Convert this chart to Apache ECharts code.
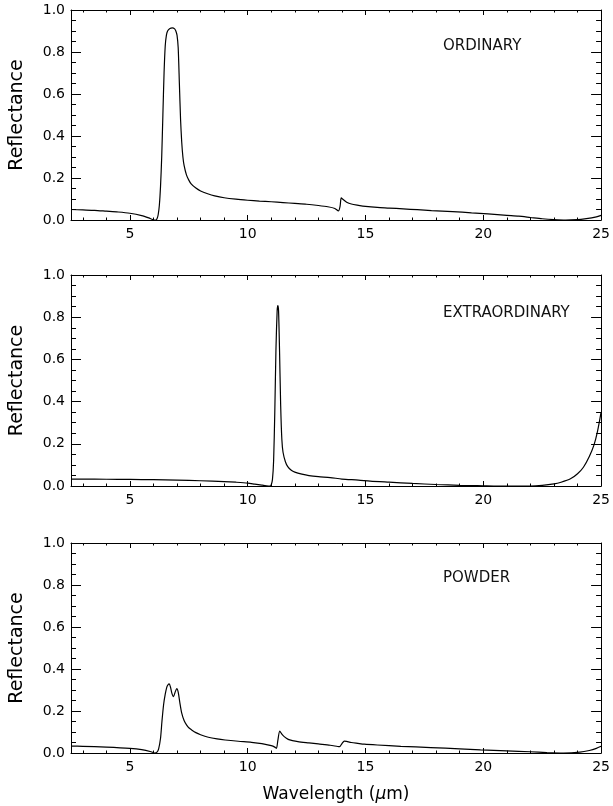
<!DOCTYPE html>
<html>
<head>
<meta charset="utf-8">
<script src="https://cdn.jsdelivr.net/npm/echarts@6/dist/echarts.min.js"></script>
<style>
html,body{margin:0;padding:0;background:#fff;}
#chart{width:613px;height:806px;}
</style>
</head>
<body>
<div id="chart"></div>
<script>
// ---------------- DATA ----------------
const panelNames = ['ORDINARY', 'EXTRAORDINARY', 'POWDER'];

const wlOrdinary = [2.5,3,3.5,4,4.5,5,5.5,5.8,6.0,6.1,6.15,6.2,6.25,6.3,6.35,6.4,6.45,6.5,6.55,6.6,6.7,6.8,6.9,6.95,7.0,7.05,7.1,7.15,7.2,7.25,7.3,7.4,7.5,7.6,7.8,8.0,8.3,8.6,9.0,9.5,10,10.5,11,11.5,12,12.5,13,13.4,13.7,13.85,13.92,13.97,14.05,14.2,14.4,14.7,15,15.5,16,16.6,17.2,17.8,18.7,19.5,20.2,21,21.5,22,22.5,23,23.5,24,24.3,24.6,24.8,25];
const rOrdinary  = [0.050,0.048,0.046,0.042,0.038,0.032,0.021,0.010,0.001,0.0,0.006,0.025,0.07,0.16,0.30,0.50,0.70,0.83,0.88,0.90,0.912,0.915,0.91,0.90,0.88,0.82,0.65,0.48,0.37,0.30,0.26,0.215,0.19,0.172,0.152,0.138,0.125,0.115,0.106,0.099,0.094,0.090,0.087,0.083,0.079,0.075,0.069,0.063,0.055,0.043,0.065,0.105,0.098,0.085,0.076,0.070,0.065,0.060,0.057,0.053,0.049,0.045,0.040,0.034,0.029,0.022,0.018,0.012,0.006,0.002,0.0,0.002,0.005,0.010,0.015,0.022];

const wlExtra = [2.5,3,4,5,6,7,8,9,9.5,10,10.3,10.6,10.8,10.95,11.0,11.05,11.1,11.15,11.2,11.25,11.28,11.31,11.35,11.4,11.45,11.5,11.6,11.7,11.85,12,12.3,12.6,13,13.5,14,14.7,15.2,16,17,18,19,19.5,20,20.5,21,21.5,22,22.5,23,23.3,23.7,24,24.25,24.5,24.7,24.85,25];
const rExtra  = [0.033,0.033,0.032,0.031,0.030,0.028,0.025,0.021,0.018,0.014,0.009,0.004,0.001,0.0,0.006,0.03,0.12,0.35,0.65,0.83,0.855,0.83,0.65,0.38,0.22,0.16,0.115,0.092,0.075,0.066,0.056,0.049,0.044,0.040,0.033,0.028,0.023,0.018,0.012,0.007,0.003,0.002,0.001,0.0,0.0,0.0,0.0,0.003,0.010,0.018,0.034,0.058,0.089,0.14,0.195,0.26,0.35];

const wlPowder = [2.5,3,4,5,5.5,5.9,6.05,6.15,6.22,6.3,6.36,6.43,6.5,6.57,6.62,6.67,6.72,6.78,6.85,6.92,6.99,7.05,7.12,7.2,7.3,7.41,7.5,7.62,7.8,8.0,8.33,8.7,9.04,9.6,10.16,10.6,11.0,11.15,11.22,11.28,11.36,11.45,11.55,11.72,11.9,12.13,12.6,13.0,13.5,13.82,13.9,14.0,14.1,14.2,14.4,14.67,14.95,15.5,16.5,17.77,19,19.88,21,21.99,22.7,23.4,24.1,24.5,24.8,25];
const rPowder  = [0.033,0.032,0.028,0.022,0.016,0.006,0.0,0.004,0.02,0.07,0.15,0.23,0.28,0.315,0.326,0.329,0.315,0.285,0.268,0.29,0.307,0.29,0.24,0.19,0.155,0.133,0.12,0.11,0.097,0.087,0.075,0.067,0.062,0.056,0.051,0.045,0.035,0.028,0.022,0.06,0.104,0.09,0.078,0.065,0.059,0.054,0.048,0.043,0.037,0.031,0.030,0.045,0.057,0.055,0.050,0.046,0.042,0.038,0.032,0.026,0.020,0.015,0.010,0.006,0.002,0.0,0.004,0.012,0.022,0.032];

const xMajorTicks = [5, 10, 15, 20, 25];
const xMinorTicks = [3,4,6,7,8,9,11,12,13,14,16,17,18,19,21,22,23,24];
const xRange = [2.5, 25];
const yRange = [0, 1];
const yStep = 0.2;
const yTitle = 'Reflectance';

// ---------------- LAYOUT / STYLE ----------------
const panels = [
  { top: 10, height: 210, wl: wlOrdinary, r: rOrdinary, labelY: 48 },
  { top: 275, height: 211, wl: wlExtra, r: rExtra, labelY: 315 },
  { top: 543, height: 210, wl: wlPowder, r: rPowder, labelY: 580 }
];
const FONT = 'DejaVu Sans, sans-serif';
const INK = '#000';

const grid = [], xAxis = [], yAxis = [], series = [], graphic = [];

panels.forEach((p, i) => {
  grid.push({ left: 71, width: 533, top: p.top, height: p.height, show: false, containLabel: false });

  const baseX = {
    gridIndex: i, type: 'value', min: xRange[0], max: xRange[1],
    splitLine: { show: false }, minorSplitLine: { show: false }
  };
  const lineOn = { show: true, onZero: false, lineStyle: { color: INK, width: 1 } };
  const lineOff = { show: false, onZero: false };

  const xMainIndex = xAxis.length;
  // bottom major (with labels)
  xAxis.push(Object.assign({}, baseX, {
    position: 'bottom',
    axisLine: lineOn,
    axisTick: { show: true, inside: true, length: 5, customValues: xMajorTicks, lineStyle: { color: INK, width: 1 } },
    axisLabel: { show: true, customValues: xMajorTicks, margin: 7, fontSize: 14, fontFamily: FONT, color: INK },
    name: i === panels.length - 1 ? '{a|Wavelength (}{b|\u03bc}{a|m)}' : '',
    nameLocation: 'middle', nameGap: 33,
    nameTextStyle: {
      rich: {
        a: { fontSize: 17, fontFamily: FONT, color: INK },
        b: { fontSize: 17, fontFamily: FONT, fontStyle: 'italic', color: INK }
      }
    }
  }));
  // bottom minor
  xAxis.push(Object.assign({}, baseX, {
    position: 'bottom', axisLine: lineOff,
    axisTick: { show: true, inside: true, length: 2.5, customValues: xMinorTicks, lineStyle: { color: INK, width: 1 } },
    axisLabel: { show: false }
  }));
  // top major
  xAxis.push(Object.assign({}, baseX, {
    position: 'top', axisLine: lineOn,
    axisTick: { show: true, inside: true, length: 5, customValues: xMajorTicks, lineStyle: { color: INK, width: 1 } },
    axisLabel: { show: false }
  }));
  // top minor
  xAxis.push(Object.assign({}, baseX, {
    position: 'top', axisLine: lineOff,
    axisTick: { show: true, inside: true, length: 2.5, customValues: xMinorTicks, lineStyle: { color: INK, width: 1 } },
    axisLabel: { show: false }
  }));

  const baseY = {
    gridIndex: i, type: 'value', min: yRange[0], max: yRange[1], interval: yStep,
    splitLine: { show: false }, minorSplitLine: { show: false },
    axisTick: { show: true, inside: true, length: 10, lineStyle: { color: INK, width: 1 } },
    minorTick: { show: true, splitNumber: 4, length: 5, lineStyle: { color: INK, width: 1 } }
  };
  const yMainIndex = yAxis.length;
  yAxis.push(Object.assign({}, baseY, {
    position: 'left', axisLine: lineOn,
    axisLabel: { show: true, margin: 6, fontSize: 14, fontFamily: FONT, color: INK, formatter: v => v.toFixed(1) },
    name: yTitle, nameLocation: 'middle', nameGap: 44, nameRotate: 90,
    nameTextStyle: { fontSize: 19, fontFamily: FONT, color: INK }
  }));
  yAxis.push(Object.assign({}, baseY, {
    position: 'right', axisLine: lineOn,
    axisLabel: { show: false }
  }));

  series.push({
    type: 'line', xAxisIndex: xMainIndex, yAxisIndex: yMainIndex,
    data: p.wl.map((w, k) => [w, p.r[k]]),
    showSymbol: false, symbol: 'none', smooth: 0.25,
    lineStyle: { color: INK, width: 1.2 },
    silent: true
  });

  graphic.push({
    type: 'text', left: 443, top: p.labelY - 9,
    style: { text: panelNames[i], fontSize: 15, fontFamily: FONT, fill: '#111' }
  });
});

const chart = echarts.init(document.getElementById('chart'), null, { renderer: 'canvas' });
chart.setOption({
  animation: false,
  backgroundColor: '#fff',
  grid, xAxis, yAxis, series, graphic
});
</script>
</body>
</html>
